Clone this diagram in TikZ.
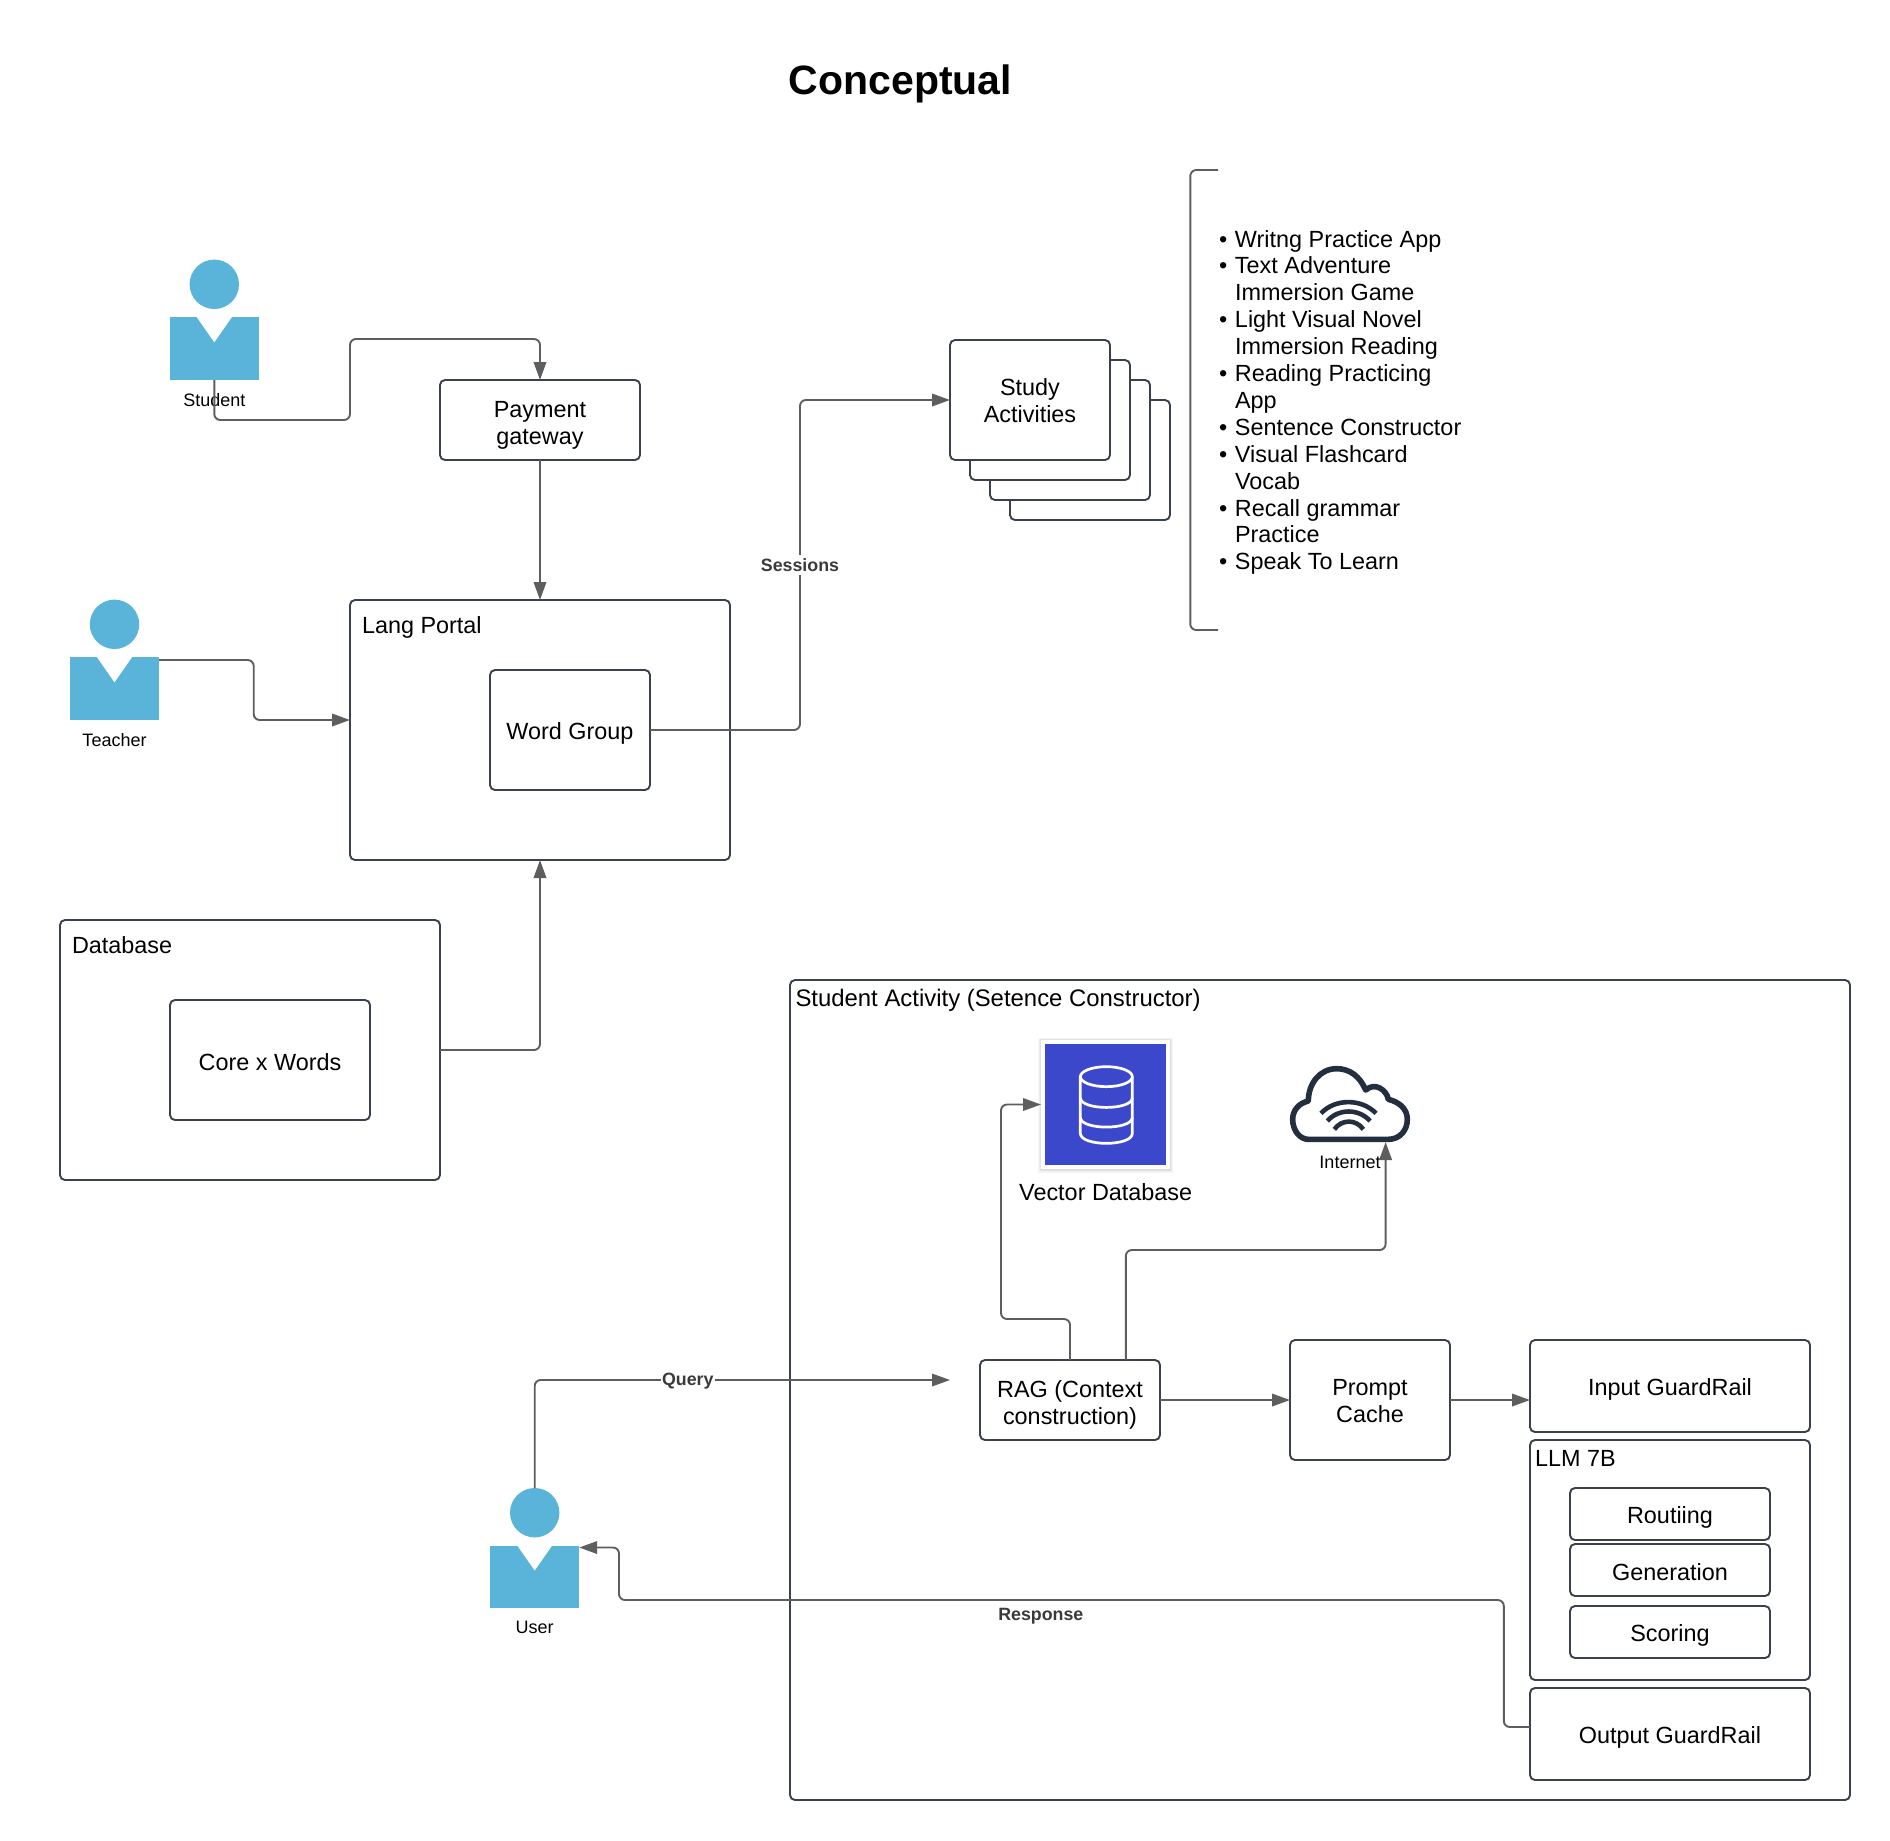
\documentclass[tikz,border=0pt]{standalone}
\usepackage{fontspec}
\setmainfont{Liberation Sans}
\usetikzlibrary{arrows.meta}
\definecolor{boxline}{HTML}{3A414C}
\definecolor{connline}{HTML}{5E5E5E}
\definecolor{personblue}{HTML}{5AB4DA}
\definecolor{dbblue}{HTML}{3C48CC}
\definecolor{cloudink}{HTML}{232F3E}
\definecolor{linklabel}{HTML}{3A3A3A}
% [text drop], name, x1, y1, x2, y2, text
\newcommand{\BoxAt}[7][0]{%
  \pgfmathsetmacro\bxw{#5-#3}\pgfmathsetmacro\bxh{#6-#4}%
  \node[boxn,minimum width=\bxw pt,minimum height=\bxh pt] (#2) at ({(#3+#5)/2},{(#4+#6)/2})
    {\raisebox{-#1pt}[\height][\depth]{\begin{tabular}{@{}c@{}}#7\end{tabular}}};}
\newcommand{\Person}[6]{% name, cx, head y, body top, label y, text
  \node[personhead] (#1head) at (#2,#3) {};
  \node[personbody,anchor=north] (#1) at (#2,#4) {};
  \fill[white] (#2-17.8,#4-0.5) -- (#2+17.8,#4-0.5) -- (#2,#4+25) -- cycle;
  \node[smalltext] (#1label) at (#2,#5) {#6};}
\tikzset{
  maintext/.style={font=\fontsize{23.4}{26.8}\selectfont,inner sep=0pt,outer sep=0pt},
  smalltext/.style={font=\fontsize{18}{20}\selectfont,inner sep=0pt,outer sep=0pt},
  boxn/.style={maintext,draw=boxline,line width=1.9pt,rounded corners=5pt,align=center,fill=white},
  personhead/.style={circle,fill=personblue,minimum size=49.4pt,inner sep=0pt,outer sep=0pt},
  personbody/.style={rectangle,fill=personblue,minimum width=89pt,minimum height=62.7pt,inner sep=0pt,outer sep=0pt},
  conn/.style={draw=connline,line width=1.9pt,rounded corners=6pt},
  tip/.style={-{Triangle[length=18pt,width=12.5pt]}},
  linktext/.style={font=\fontsize{17.8}{20}\selectfont\bfseries,text=linklabel,fill=white,inner xsep=1pt,inner ysep=3pt,outer sep=0pt},
  softedge/.style={fill=black,opacity=.035},
}
\begin{document}
\begin{tikzpicture}[x=1pt,y=-1pt]
\useasboundingbox (0,0) rectangle (1890,1840);
\fill[white] (0,0) rectangle (1890,1840);

\node[font=\fontsize{41}{46}\selectfont\bfseries,inner sep=0pt] (title) at (900.5,83.5) {Conceptual};

% persons
\Person{student}{214.3}{284.3}{317.3}{400}{Student}
\Person{teacher}{114.5}{624.3}{657.3}{740}{Teacher}
\Person{user}{534.7}{1512.7}{1545.5}{1627.8}{User}

% boxes
\BoxAt[5.7]{gateway}{440}{380}{640}{460}{Payment\\gateway}
\BoxAt{portal}{350}{600}{730}{860}{}
\node[maintext,anchor=west] (portallabel) at (362,627.2) {Lang Portal};
\BoxAt[4.6]{wordgroup}{490}{670}{650}{790}{Word Group}
\BoxAt{database}{60}{920}{440}{1180}{}
\node[maintext,anchor=west] (databaselabel) at (72,945.6) {Database};
\BoxAt[5]{corewords}{170}{1000}{370}{1120}{Core x Words}

% study activities stack
\BoxAt{study4}{1010}{400}{1170}{520}{}
\BoxAt{study3}{990}{380}{1150}{500}{}
\BoxAt{study2}{970}{360}{1130}{480}{}
\BoxAt[3.4]{study}{950}{340}{1110}{460}{Study\\Activities}

% bracket and list
\draw[draw=connline,line width=1.9pt,rounded corners=6pt] (1218,170) -- (1190.3,170) -- (1190.3,630) -- (1218,630);
\node[maintext,font=\fontsize{23.4}{26.9}\selectfont,anchor=north west,align=left] (studylist) at (1219,230.1) {%
  \makebox[16pt][l]{•}Writng Practice App\\
  \makebox[16pt][l]{•}Text Adventure\\
  \makebox[16pt][l]{}Immersion Game\\
  \makebox[16pt][l]{•}Light Visual Novel\\
  \makebox[16pt][l]{}Immersion Reading\\
  \makebox[16pt][l]{•}Reading Practicing\\
  \makebox[16pt][l]{}App\\
  \makebox[16pt][l]{•}Sentence Constructor\\
  \makebox[16pt][l]{•}Visual Flashcard\\
  \makebox[16pt][l]{}Vocab\\
  \makebox[16pt][l]{•}Recall grammar\\
  \makebox[16pt][l]{}Practice\\
  \makebox[16pt][l]{•}Speak To Learn};

% student activity
\BoxAt{activity}{790}{980}{1850}{1800}{}
\node[maintext,font=\fontsize{23.9}{26.8}\selectfont,anchor=west] (activitylabel) at (795.5,1000.4) {Student Activity (Setence Constructor)};
\BoxAt[5.5]{rag}{980}{1360}{1160}{1440}{RAG (Context\\construction)}
\BoxAt[3.3]{cache}{1290}{1340}{1450}{1460}{Prompt\\Cache}
\BoxAt[4]{inputgr}{1530}{1340}{1810}{1432}{Input GuardRail}
\BoxAt{llm}{1530}{1440}{1810}{1680}{}
\node[maintext,anchor=west] (llmlabel) at (1535,1458.8) {LLM 7B};
\BoxAt[4.6]{routing}{1570}{1488}{1770}{1540}{Routiing}
\BoxAt[4.7]{generation}{1570}{1544}{1770}{1596}{Generation}
\BoxAt[4.5]{scoring}{1570}{1606}{1770}{1658}{Scoring}
\BoxAt[4]{outputgr}{1530}{1688}{1810}{1780}{Output GuardRail}

% vector database icon
\fill[softedge] (1038,1038) rectangle (1173,1173);
\fill[softedge] (1039,1038.5) rectangle (1172,1172);
\fill[softedge] (1040,1039) rectangle (1171,1171);
\fill[softedge] (1040.5,1039.5) rectangle (1170.5,1170);
\node[rectangle,fill=white,minimum width=129pt,minimum height=129pt,inner sep=0pt,outer sep=0pt] (vdb) at (1105.5,1104.5) {};
\node[rectangle,fill=dbblue,minimum width=120.5pt,minimum height=120.5pt,inner sep=0pt,outer sep=0pt] (vdbblue) at (vdb.center) {};
\begin{scope}[shift={(1000,1020)},x=0.33333pt,y=-0.33333pt,draw=white,line width=2.7pt]
  \draw (319,170) ellipse [x radius=78,y radius=30];
  \draw (241,170) -- (241,340) .. controls (241,380) and (397,380) .. (397,340) -- (397,170);
  \draw (241,233) .. controls (241,272) and (397,272) .. (397,233);
  \draw (241,292) .. controls (241,331) and (397,331) .. (397,292);
\end{scope}
\node[maintext] (vdblabel) at (1105.7,1191.7) {Vector Database};

% cloud icon
\node[rectangle,minimum width=118pt,minimum height=75pt,inner sep=0pt,outer sep=0pt] (cloud) at (1350,1104.5) {};
\begin{scope}[shift={(1000,1020)},x=0.33333pt,y=-0.33333pt,draw=cloudink,line join=round]
  \draw[line width=5.6pt] (925,358) -- (1165,358)
    .. controls (1200,358) and (1222,330) .. (1222,298)
    .. controls (1222,265) and (1195,245) .. (1165,238)
    .. controls (1160,210) and (1125,185) .. (1097,210)
    .. controls (1080,170) and (1050,146) .. (1010,146)
    .. controls (960,146) and (925,190) .. (925,243)
    .. controls (895,250) and (878,272) .. (878,298)
    .. controls (878,332) and (900,358) .. (925,358) -- cycle;
  \draw[line width=4.6pt] (963,280) .. controls (1005,235) and (1085,235) .. (1128,280);
  \draw[line width=4.6pt] (982,303) .. controls (1015,265) and (1077,265) .. (1110,303);
  \draw[line width=4.6pt] (1003,328) .. controls (1025,297) and (1068,297) .. (1090,328);
\end{scope}
\node[smalltext] (cloudlabel) at (1350,1162.3) {Internet};

% connectors
\draw[conn,tip] (student.south) -- (214.3,420) -- (350,420) -- (350,339) -- (540,339) -- (gateway.north);
\draw[conn,tip] (gateway.south) -- (portal.north);
\draw[conn,tip] (teacher.east |- 0,660) -- (253.7,660) -- (253.7,720) -- (portal.west |- 0,720);
\draw[conn,tip] (database.east |- 0,1050) -- (540,1050) -- (portal.south);
\draw[conn,tip] (wordgroup.east) -- (800,730) -- (800,400) -- (study.west);
\coordinate (querytip) at (950,1380);
\draw[conn,tip] (userhead.north) -- (534.7,1380) -- (querytip);
\draw[conn,tip] (rag.north) -- (1070,1319) -- (1001,1319) -- (1001,1104.5) -- (vdb.west);
\draw[conn,tip] (rag.north -| 1125.8,0) -- (1125.8,1250) -- (1385.6,1250) -- (cloud.south -| 1385.6,0);
\draw[conn,tip] (rag.east |- 0,1400) -- (cache.west);
\draw[conn,tip] (cache.east) -- (inputgr.west |- 0,1400);
\draw[conn,tip] (outputgr.west |- 0,1727) -- (1503.8,1727) -- (1503.8,1600) -- (619,1600) -- (619,1547.5) -- (user.east |- 0,1547.5);

% connector labels
\node[linktext] (sessionslabel) at (800,565) {Sessions};
\node[linktext] (querylabel) at (687.8,1381) {Query};
\node[linktext,fill=none] (responselabel) at (1040.8,1616) {Response};
\end{tikzpicture}
\end{document}
